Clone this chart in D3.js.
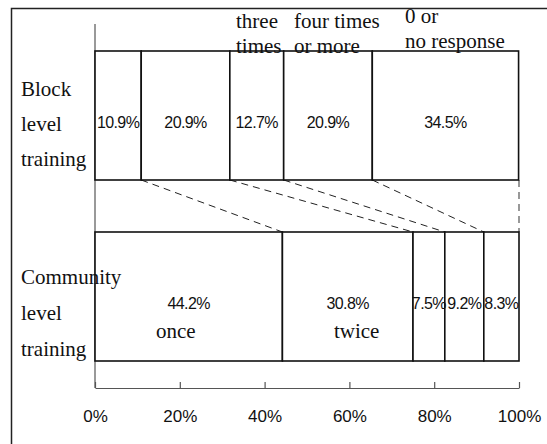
<!DOCTYPE html>
<html>
<head>
<meta charset="utf-8">
<script src="https://cdn.jsdelivr.net/npm/d3@7/dist/d3.min.js"></script>
<style>
  html, body { margin: 0; padding: 0; background: #fff; }
  svg { display: block; }
</style>
</head>
<body>
<script>
// Frequency of training attended, share of respondents (%)
const groups = ["Block level training", "Community level training"];
const groupLines = [["Block", "level", "training"], ["Community", "level", "training"]];
const frequencies = ["once", "twice", "three times", "four times or more", "0 or no response"];
const blockValues = [10.9, 20.9, 12.7, 20.9, 34.5];
const communityValues = [44.2, 30.8, 7.5, 9.2, 8.3];
const tickValues = [0, 20, 40, 60, 80, 100];

const SERIF = "'Liberation Serif', 'Times New Roman', serif";
const SANS = "'Liberation Sans', Arial, sans-serif";

const W = 547, H = 444;
const svg = d3.select("body").append("svg").attr("width", W).attr("height", H);

// frame around the figure (runs off the right and bottom edges)
svg.append("rect")
  .attr("x", 11.5).attr("y", 8.5).attr("width", 700).attr("height", 600)
  .attr("fill", "none").attr("stroke", "#222").attr("stroke-width", 1.5);

const x = d3.scaleLinear().domain([0, 100]).range([95, 519]);
const y = d3.scaleBand().domain(groups).range([51, 361]).paddingInner(0.2873).paddingOuter(0);

function stack(values) {
  let acc = 0;
  return values.map((v, i) => {
    const s = { key: frequencies[i], value: v, x0: acc, x1: acc + v };
    acc += v;
    return s;
  });
}
const rows = [stack(blockValues), stack(communityValues)];

// vertical axis line
svg.append("line")
  .attr("x1", x(0)).attr("x2", x(0)).attr("y1", 24).attr("y2", 388)
  .attr("stroke", "#555").attr("stroke-width", 1.2);

// connector lines between the two bars
const yBlockBottom = y(groups[0]) + y.bandwidth();
const yCommTop = y(groups[1]);
const links = rows[0].slice(0, 4).map((d, i) => ({ a: d.x1, b: rows[1][i].x1 }));
svg.append("g").selectAll("line").data(links).join("line")
  .attr("x1", d => x(d.a)).attr("y1", yBlockBottom)
  .attr("x2", d => x(d.b)).attr("y2", yCommTop)
  .attr("stroke", "#222").attr("stroke-width", 1).attr("stroke-dasharray", "7,5");
svg.append("line")
  .attr("x1", x(100)).attr("x2", x(100)).attr("y1", yBlockBottom).attr("y2", yCommTop)
  .attr("stroke", "#555").attr("stroke-width", 1.2).attr("stroke-dasharray", "7,5");

// stacked segments
rows.forEach((row, r) => {
  const g = svg.append("g");
  g.selectAll("rect").data(row).join("rect")
    .attr("x", d => x(d.x0)).attr("y", y(groups[r]))
    .attr("width", d => x(d.x1) - x(d.x0)).attr("height", y.bandwidth())
    .attr("fill", "#fff").attr("stroke", "#111").attr("stroke-width", 1.6);
  const labelY = y(groups[r]) + y.bandwidth() / 2 + (r === 0 ? 13 : 12);
  g.selectAll("text").data(row).join("text")
    .attr("font-family", SANS)
    .attr("x", d => x((d.x0 + d.x1) / 2)).attr("y", labelY)
    .attr("text-anchor", "middle").attr("font-size", 16).attr("letter-spacing", -0.6)
    .attr("fill", "#111")
    .text(d => d.value.toFixed(1) + "%");
});

// frequency names inside the community bar
const cRow = rows[1];
svg.append("text").attr("font-family", SERIF)
  .attr("x", x((cRow[0].x0 + cRow[0].x1) / 2) - 13).attr("y", 338)
  .attr("text-anchor", "middle").attr("font-size", 21).attr("fill", "#111")
  .text(frequencies[0]);
svg.append("text").attr("font-family", SERIF)
  .attr("x", x((cRow[1].x0 + cRow[1].x1) / 2) + 9).attr("y", 338)
  .attr("text-anchor", "middle").attr("font-size", 21).attr("fill", "#111")
  .text(frequencies[1]);

// frequency names above the block bar
const topLabels = [
  { lines: ["three", "times"], x: 236, y: 28 },
  { lines: ["four times", "or more"], x: 294, y: 28 },
  { lines: ["0 or", "no response"], x: 405, y: 23 }
];
topLabels.forEach(t => {
  const txt = svg.append("text").attr("font-family", SERIF)
    .attr("x", t.x).attr("y", t.y).attr("font-size", 21).attr("fill", "#111");
  t.lines.forEach((l, i) => txt.append("tspan").attr("x", t.x).attr("dy", i ? 25 : 0).text(l));
});

// group labels
groupLines.forEach((lines, r) => {
  const y0 = r === 0 ? 96 : 284;
  const step = r === 0 ? 35 : 36;
  const txt = svg.append("text").attr("font-family", SERIF)
    .attr("x", 21).attr("y", y0).attr("font-size", 21).attr("fill", "#111");
  lines.forEach((l, i) => txt.append("tspan").attr("x", 21).attr("dy", i ? step : 0).text(l));
});

// percentage axis
const axis = d3.axisBottom(x).tickValues(tickValues).tickFormat(d => d + "%")
  .tickSize(-6).tickSizeOuter(0).tickPadding(22);
const ag = svg.append("g").attr("transform", "translate(0,388)").call(axis);
ag.attr("font-family", SANS);
ag.select(".domain").attr("stroke", "#555").attr("stroke-width", 1.2);
ag.selectAll(".tick line").attr("stroke", "#555").attr("stroke-width", 1.2);
ag.selectAll(".tick text").attr("font-size", 17).attr("fill", "#111");
</script>
</body>
</html>
